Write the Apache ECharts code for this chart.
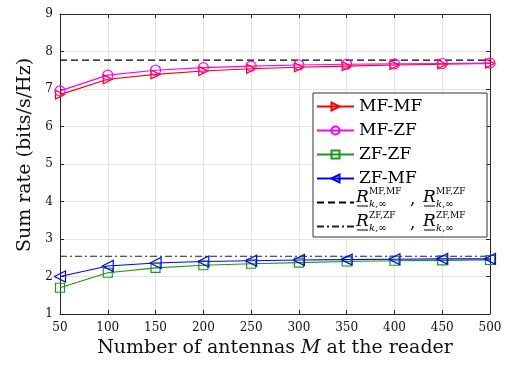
<!DOCTYPE html>
<html>
<head>
<meta charset="utf-8">
<script src="https://cdn.jsdelivr.net/npm/echarts@6/dist/echarts.min.js"></script>
<style>
  html, body { margin: 0; padding: 0; background: #fff; }
  #main { width: 515px; height: 365px; }
</style>
</head>
<body>
<div id="main"></div>
<script>
var antennas = [50, 100, 150, 200, 250, 300, 350, 400, 450, 500];
var mfmf = [6.85, 7.26, 7.39, 7.48, 7.54, 7.58, 7.61, 7.64, 7.66, 7.68];
var mfzf = [6.95, 7.37, 7.50, 7.57, 7.61, 7.64, 7.66, 7.67, 7.68, 7.69];
var zfzf = [1.70, 2.10, 2.23, 2.30, 2.34, 2.37, 2.40, 2.42, 2.43, 2.44];
var zfmf = [2.00, 2.28, 2.36, 2.40, 2.42, 2.44, 2.45, 2.46, 2.47, 2.47];
var limitMF = 7.77;   // dashed bound
var limitZF = 2.54;   // dash-dot bound

var serif = 'DejaVu Serif';
var axisColor = '#262626';
var gridColor = '#e3e3e3';

function pairs(ys) {
  return antennas.map(function (x, i) { return [x, ys[i]]; });
}
function flat(v) {
  return antennas.map(function (x) { return [x, v]; });
}
function markerSeries(name, data, color, symbol, size, rotate) {
  return {
    name: name, type: 'line', data: pairs(data),
    symbol: symbol, symbolSize: size, symbolRotate: rotate || 0,
    color: color,
    lineStyle: { color: color, width: 1.2 },
    itemStyle: { color: 'rgba(255,255,255,0)', borderColor: color, borderWidth: 1.2 },
    z: 3
  };
}

var chart = echarts.init(document.getElementById('main'));

var axisBase = {
  type: 'value',
  axisLine: { show: true, onZero: false, lineStyle: { color: axisColor, width: 1 } },
  axisTick: { show: true, inside: true, length: 4, lineStyle: { color: axisColor } },
  axisLabel: { color: '#111', fontFamily: serif, fontSize: 12 }
};

// R label: underlined R with stacked super/subscript
function rLabel(x, y, sup) {
  return {
    type: 'group', x: x, y: y,
    children: [
      { type: 'text', z: 10, x: 0, y: 0, style: { text: 'R', font: 'italic 17px ' + serif, fill: '#000', textVerticalAlign: 'middle' } },
      { type: 'line', z: 10, shape: { x1: 1, y1: 8, x2: 12, y2: 8 }, style: { stroke: '#000', lineWidth: 1 } },
      { type: 'text', z: 10, x: 13, y: -6, style: { text: sup, font: '9px ' + serif, fill: '#000', textVerticalAlign: 'middle' } },
      { type: 'text', z: 10, x: 13, y: 6, style: { text: 'k,∞', font: 'italic 10px ' + serif, fill: '#000', textVerticalAlign: 'middle' } }
    ]
  };
}

chart.setOption({
  backgroundColor: '#fff',
  animation: false,
  grid: { left: 60, right: 25, top: 14, bottom: 51 },
  xAxis: [
    Object.assign({}, axisBase, {
      min: 50, max: 500, interval: 50,
      name: 'Number of antennas {i|M} at the reader',
      nameLocation: 'middle', nameGap: 25,
      nameTextStyle: {
        fontFamily: serif, fontSize: 19, color: '#111',
        rich: { i: { fontFamily: serif, fontSize: 19, fontStyle: 'italic', color: '#111' } }
      },
      axisLabel: Object.assign({}, axisBase.axisLabel, { margin: 8 }),
      splitLine: { show: true, lineStyle: { color: gridColor } }
    }),
    Object.assign({}, axisBase, {
      position: 'top', min: 50, max: 500, interval: 50,
      axisLabel: { show: false }, splitLine: { show: false }
    })
  ],
  yAxis: [
    Object.assign({}, axisBase, {
      min: 1, max: 9, interval: 1,
      name: 'Sum rate (bits/s/Hz)',
      nameLocation: 'middle', nameGap: 24,
      nameTextStyle: { fontFamily: serif, fontSize: 19, color: '#111', padding: [0, 0, 0, 18] },
      axisLabel: Object.assign({}, axisBase.axisLabel, { margin: 7 }),
      splitLine: { show: true, lineStyle: { color: gridColor } }
    }),
    Object.assign({}, axisBase, {
      position: 'right', min: 1, max: 9, interval: 1,
      axisLabel: { show: false }, splitLine: { show: false }
    })
  ],
  legend: {
    orient: 'vertical', left: 316, top: 98, padding: 0,
    itemWidth: 37, itemHeight: 10, itemGap: 7,
    textStyle: { fontFamily: serif, fontSize: 17, color: '#000', lineHeight: 16 },
    data: ['MF-MF', 'MF-ZF', 'ZF-ZF', 'ZF-MF',
      { name: 'boundMF', itemStyle: { opacity: 0 } },
      { name: 'boundZF', itemStyle: { opacity: 0 } }],
    formatter: function (n) { return n.indexOf('bound') === 0 ? ' ' : n; },
    selectedMode: false, z: 9
  },
  graphic: [
    { type: 'rect', z: 8, shape: { x: 313, y: 93, width: 174, height: 144 },
      style: { fill: '#fff', stroke: '#333', lineWidth: 1 } },
    rLabel(356, 198, 'MF,MF'),
    { type: 'text', x: 410, y: 200, z: 10, style: { text: ',', font: '17px ' + serif, fill: '#000', textVerticalAlign: 'middle' } },
    rLabel(423, 198, 'MF,ZF'),
    rLabel(356, 222, 'ZF,ZF'),
    { type: 'text', x: 410, y: 224, z: 10, style: { text: ',', font: '17px ' + serif, fill: '#000', textVerticalAlign: 'middle' } },
    rLabel(423, 222, 'ZF,MF')
  ],
  series: [
    markerSeries('MF-MF', mfmf, '#ff0000', 'triangle', 9, -90),
    markerSeries('MF-ZF', mfzf, '#ff00ff', 'circle', 10),
    markerSeries('ZF-ZF', zfzf, '#189a18', 'rect', 9),
    markerSeries('ZF-MF', zfmf, '#0000ff', 'triangle', 11, 90),
    {
      name: 'boundMF', type: 'line', data: flat(limitMF), symbol: 'none',
      color: '#000', lineStyle: { color: '#000', width: 1.2, type: [7, 4] }, z: 2
    },
    {
      name: 'boundZF', type: 'line', data: flat(limitZF), symbol: 'none',
      color: '#222', lineStyle: { color: '#222', width: 1.2, type: [7, 3, 2, 3] }, z: 2
    }
  ]
});
</script>
</body>
</html>
